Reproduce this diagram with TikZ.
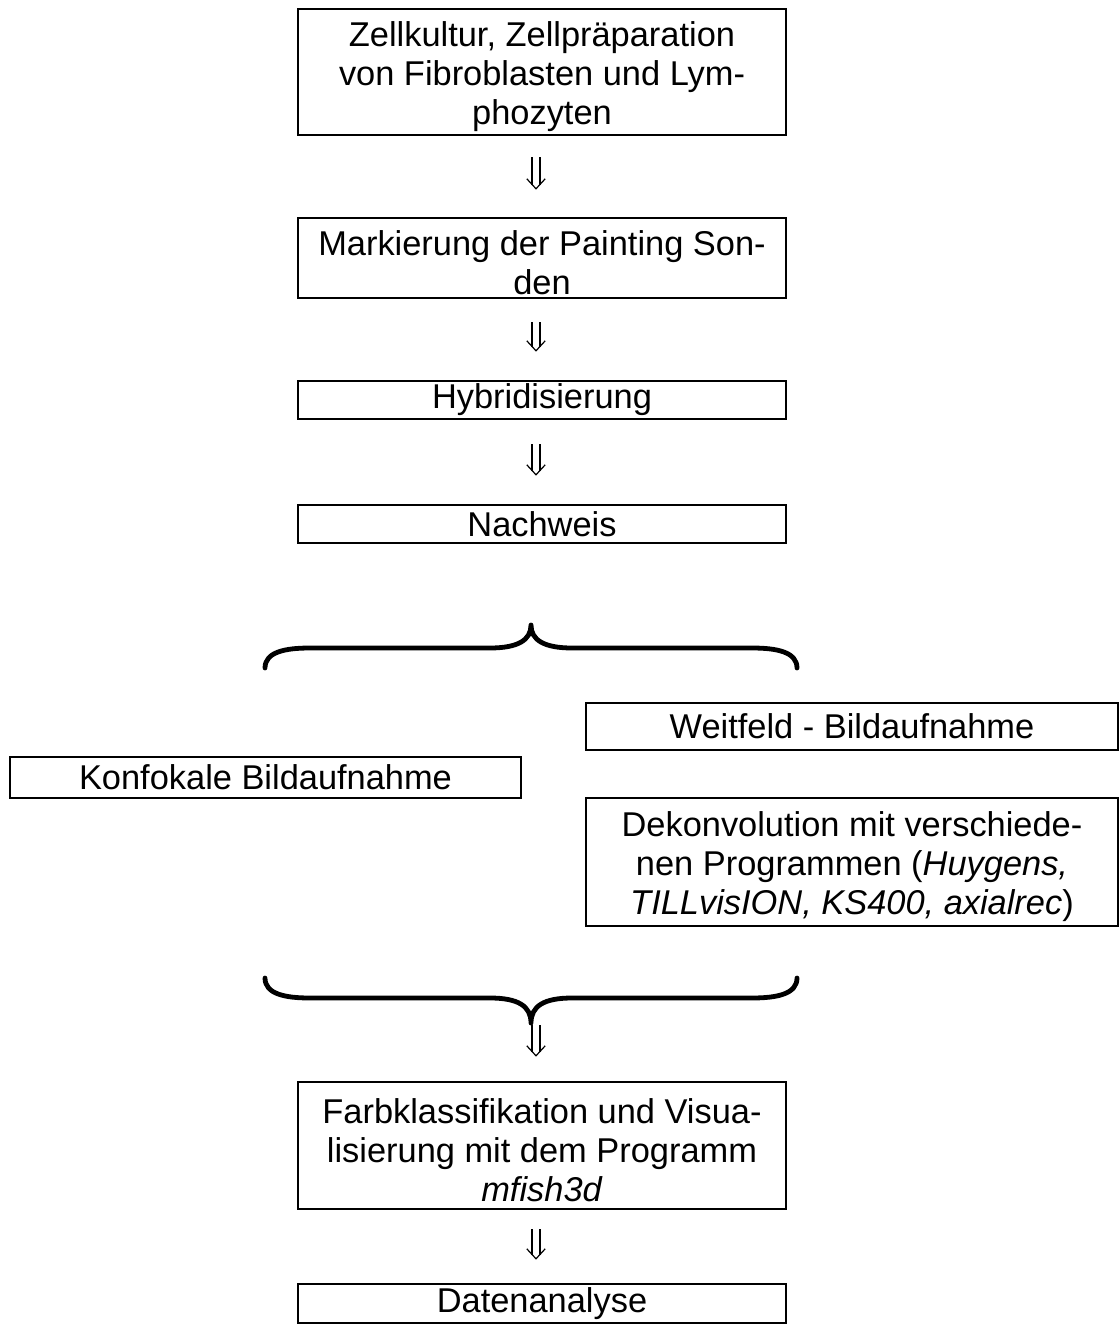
\documentclass[tikz,border=0pt]{standalone}
\usepackage{fontspec}
\setmainfont{Liberation Sans}
\usetikzlibrary{decorations.markings}

\newcommand{\linetop}{\rule{0pt}{17pt}}

\tikzset{
  stepbox/.style={draw, line width=1.2pt, align=center, inner sep=0pt,
    font=\fontsize{17.2}{19.5}\selectfont},
  dblarrow/.style={double, double distance=3.4pt, line width=0.6pt,
    shorten >=2pt,
    postaction={decorate, decoration={markings, mark=at position 1 with
      {\draw[line width=0.6pt, shorten >=0pt] (-5pt,4.6pt) -- (0pt,0pt) -- (-5pt,-4.6pt);}}}},
  brace/.style={line width=2.4pt, line cap=round, line join=round}
}

\begin{document}
\begin{tikzpicture}[x=0.5pt, y=-0.5pt]
  \useasboundingbox (0,0) rectangle (1119,1326);

  % Upper chain
  \node[stepbox, minimum width=244pt, minimum height=63pt] (zell) at (542,72)
    {\linetop Zellkultur, Zellpräparation\\von Fibroblasten und Lym-\\phozyten};
  \node[stepbox, minimum width=244pt, minimum height=40pt] (sonden) at (542,258)
    {\linetop Markierung der Painting Son-\\den};
  \node[stepbox, minimum width=244pt, minimum height=19pt] (hybr) at (542,400)
    {Hybridisierung};
  \node[stepbox, minimum width=244pt, minimum height=19pt] (nachw) at (542,524)
    {Nachweis};

  % Image acquisition
  \node[stepbox, minimum width=266pt, minimum height=23.5pt] (weit) at (852,726.5)
    {Weitfeld - Bildaufnahme};
  \node[stepbox, minimum width=255.5pt, minimum height=20.5pt] (konf) at (265.5,777.5)
    {Konfokale Bildaufnahme};
  \node[stepbox, minimum width=266pt, minimum height=64pt] (dekon) at (852,862)
    {\linetop Dekonvolution mit verschiede-\\nen Programmen (\textit{Huygens,}\\\textit{TILLvisION, KS400, axialrec})};

  % Lower chain
  \node[stepbox, minimum width=244pt, minimum height=63.5pt] (farb) at (542,1145.5)
    {\linetop Farbklassifikation und Visua-\\lisierung mit dem Programm\\\textit{mfish3d}};
  \node[stepbox, minimum width=244pt, minimum height=19.5pt] (daten) at (542,1303.5)
    {Datenanalyse};

  % Braces
  \draw[brace] (265,668) .. controls (265,652) and (285,648) .. (310,648)
    -- (490,648) .. controls (518,648) and (531,640) .. (531,625)
    .. controls (531,640) and (544,648) .. (572,648)
    -- (752,648) .. controls (777,648) and (797,652) .. (797,668);
  \draw[brace] (265,978) .. controls (265,994) and (285,998) .. (310,998)
    -- (490,998) .. controls (518,998) and (531,1006) .. (531,1023)
    .. controls (531,1006) and (544,998) .. (572,998)
    -- (752,998) .. controls (777,998) and (797,994) .. (797,978);
  \coordinate (tip) at (536,1023);

  % Arrows
  \foreach \from/\to/\s/\e in {zell/sonden/10.5/14, sonden/hybr/11.5/14.5,
      hybr/nachw/12/14.5, farb/daten/9.5/12}
    \draw[dblarrow] ([xshift=-3pt, yshift=-\s pt]\from.south)
      -- ([xshift=-3pt, yshift=\e pt]\to.north);
  \draw[dblarrow] ([yshift=-1pt]tip) -- ([yshift=12.5pt]tip |- farb.north);
\end{tikzpicture}
\end{document}
